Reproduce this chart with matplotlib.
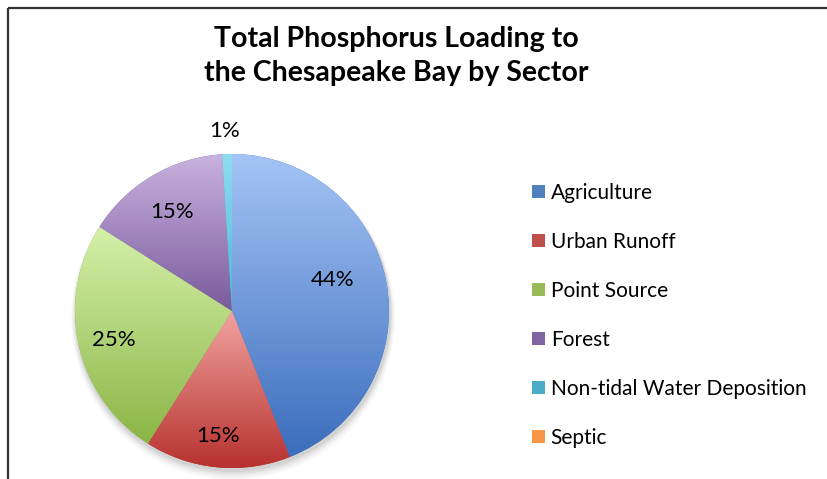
import numpy as np
import matplotlib
matplotlib.use("Agg")
import matplotlib.pyplot as plt
from matplotlib.patches import Patch, Circle
from matplotlib.colors import LinearSegmentedColormap

categories = ["Agriculture", "Urban Runoff", "Point Source", "Forest",
              "Non-tidal Water Deposition", "Septic"]
values = [44, 15, 25, 15, 1, 0]
labels = ["44%", "15%", "25%", "15%", "1%", ""]
title = "Total Phosphorus Loading to\nthe Chesapeake Bay by Sector"

# (top/light, bottom/dark) gradient colours per slice
grad = [("#a5c4f6", "#3a6dbc"), ("#f2a4a0", "#b6312f"), ("#d6f0aa", "#8ab545"),
        ("#c9b3e0", "#795a9c"), ("#90dcf2", "#4ab6d6"), ("#fbb37a", "#e9812f")]
legend_cols = ["#4f81bd", "#c0504d", "#9bbb59", "#8064a2", "#4bacc6", "#f79646"]

W, H = 827, 479
fig = plt.figure(figsize=(W / 100, H / 100), dpi=100)
ax = fig.add_axes([0, 0, 1, 1])

FONT = "Lato"
cx, cy, R = 232, H - 311, 157

wedges, _ = ax.pie(values, startangle=90, counterclock=False, center=(cx, cy),
                   radius=R, colors=[g[1] for g in grad],
                   wedgeprops=dict(linewidth=0))
ax.set_xlim(0, W)
ax.set_ylim(0, H)
ax.set_aspect("equal")
ax.axis("off")

# soft shadow
for i, a in enumerate(np.linspace(0.05, 0.02, 5)):
    ax.add_patch(Circle((cx + 1, cy - 3 - i), R + 1 + i, color="black", alpha=a,
                        lw=0, zorder=0))

for w, (c1, c2) in zip(wedges, grad):
    if w.theta2 - w.theta1 <= 0:
        continue
    th = np.radians(np.linspace(w.theta1, w.theta2, 200))
    ys = np.concatenate([[cy], cy + R * np.sin(th)])
    xs = np.concatenate([[cx], cx + R * np.cos(th)])
    cmap = LinearSegmentedColormap.from_list("g", [c2, c1])
    g = np.linspace(0, 1, 256).reshape(-1, 1)
    im = ax.imshow(g, cmap=cmap, origin="lower", aspect="auto",
                   extent=(xs.min() - 1, xs.max() + 1, ys.min() - 1, ys.max() + 1),
                   zorder=2, interpolation="bilinear")
    im.set_clip_path(w)

ax.set_xlim(0, W)
ax.set_ylim(0, H)

label_pos = [(333, 280), (218, 436), (114, 340), (172, 212), (225, 131)]
for (x, y), t in zip(label_pos, labels):
    ax.text(x, H - y, t, ha="center", va="center", fontsize=16,
            family=FONT, color="black", zorder=5)

ax.text(396, H - 56, title, ha="center", va="center", fontsize=20.5,
        family=FONT, fontweight="bold", linespacing=1.38, zorder=5)

handles = [Patch(facecolor=c, edgecolor="none") for c in legend_cols]
leg = ax.legend(handles, categories, loc="upper left",
                bbox_to_anchor=(532, H - 183), bbox_transform=ax.transData,
                frameon=False, prop=dict(family=FONT, size=15),
                handlelength=0.6, handleheight=0.6, handletextpad=0.3,
                labelspacing=1.39, borderpad=0, borderaxespad=0)

# frame lines (top and left)
ax.plot([8, W + 5], [H - 8, H - 8], color="#333333", lw=1.6, solid_capstyle="butt", zorder=6)
ax.plot([8, 8], [H - 8, -5], color="#333333", lw=1.6, solid_capstyle="butt", zorder=6)

fig.savefig("out.png", dpi=100)
